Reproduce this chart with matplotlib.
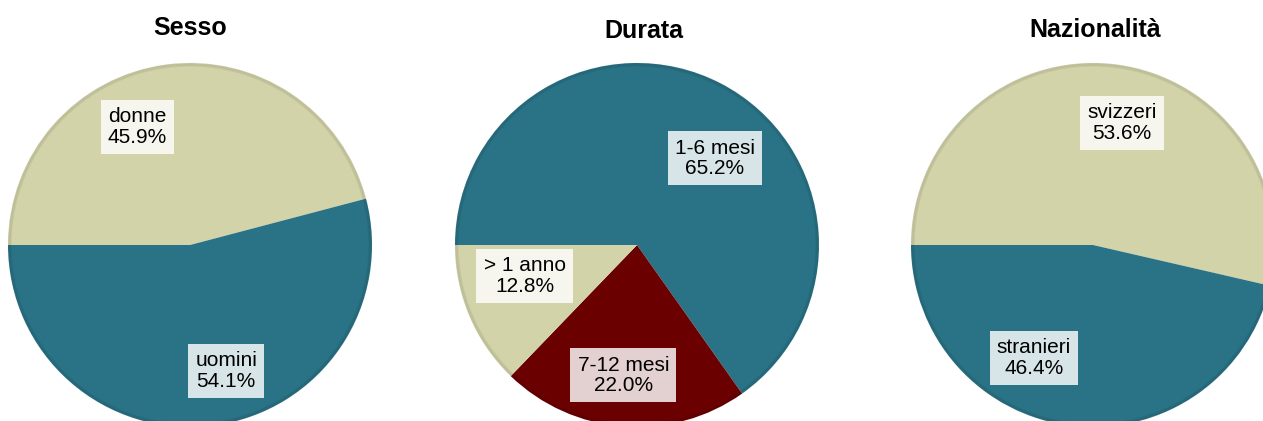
import matplotlib
matplotlib.use("Agg")
import matplotlib.pyplot as plt
from matplotlib.patches import Circle
import numpy as np

plt.rcParams['font.family'] = ['Liberation Sans', 'DejaVu Sans']

# ---- data ----
titles = ["Sesso", "Durata", "Nazionalità"]
sesso_labels = ["donne", "uomini"]
sesso_values = [45.9, 54.1]
durata_labels = ["1-6 mesi", "7-12 mesi", "> 1 anno"]
durata_values = [65.2, 22.0, 12.8]
naz_labels = ["svizzeri", "stranieri"]
naz_values = [53.6, 46.4]

# ---- style ----
TEAL = "#2A7386"
BEIGE = "#D2D3A9"
DARKRED = "#6B0000"
sesso_colors = [BEIGE, TEAL]
durata_colors = [TEAL, DARKRED, BEIGE]
naz_colors = [BEIGE, TEAL]

W, H = 1263, 421
fig = plt.figure(figsize=(W / 100, H / 100), dpi=100)
ax = fig.add_axes([0, 0, 1, 1])

# pie geometry in pixel coordinates (y measured from bottom)
centers = [(190, H - 245), (637, H - 245), (1093, H - 245)]
radius = 182
title_pos = [(190, H - 28), (644, H - 31), (1095, H - 30)]
# label placement: (angle in degrees, fraction of radius)
sesso_lbl = [(114, 0.71), (-74, 0.72)]
durata_lbl = [(48, 0.64), (-96, 0.72), (195.5, 0.64)]
naz_lbl = [(76.6, 0.69), (-117.6, 0.70)]

groups = [
    (sesso_labels, sesso_values, sesso_colors, sesso_lbl),
    (durata_labels, durata_values, durata_colors, durata_lbl),
    (naz_labels, naz_values, naz_colors, naz_lbl),
]

for (labels, values, colors, lblpos), c, title, tp in zip(groups, centers, titles, title_pos):
    ax.pie(values, colors=colors, startangle=180, counterclock=False,
           center=c, radius=radius, wedgeprops=dict(linewidth=0))
    # subtle bevel shading on the rim
    for i in range(4):
        ax.add_patch(Circle(c, radius - 0.5 - i * 0.8, fill=False,
                            edgecolor="black", alpha=0.045, lw=1.2))
    for lab, val, (ang, rf) in zip(labels, values, lblpos):
        x = c[0] + rf * radius * np.cos(np.radians(ang))
        y = c[1] + rf * radius * np.sin(np.radians(ang))
        ax.text(x, y, f"{lab}\n{val:.1f}%", ha="center", va="center",
                fontsize=15, linespacing=1.1, color="black",
                bbox=dict(boxstyle="square,pad=0.35", facecolor="white",
                          edgecolor="none", alpha=0.82))
    ax.text(tp[0], tp[1], title, ha="center", va="center",
            fontsize=18, fontweight="bold")

ax.set_xlim(0, W)
ax.set_ylim(0, H)
ax.set_aspect("equal")
ax.axis("off")

fig.savefig("out.png", dpi=100)
